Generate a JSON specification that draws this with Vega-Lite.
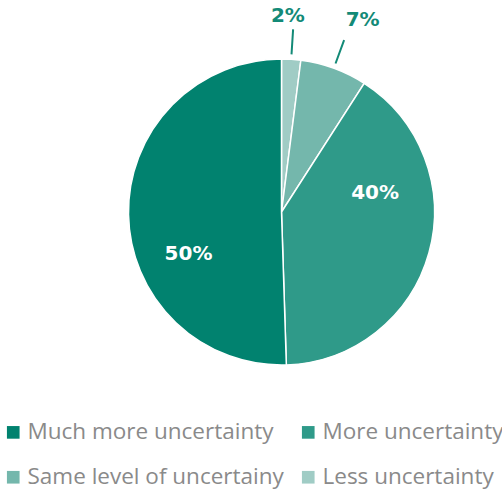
{
  "$schema": "https://vega.github.io/schema/vega-lite/v6.json",
  "autosize": "none",
  "width": 441,
  "height": 424,
  "padding": {"left": 61, "top": 0, "right": 0, "bottom": 67},
  "background": "white",
  "config": {"view": {"stroke": null}},
  "data": {
    "values": [
      {"category": "Less uncertainty", "value": 2, "label": "2%", "order": 1},
      {"category": "Same level of uncertainy", "value": 7, "label": "7%", "order": 2},
      {"category": "More uncertainty", "value": 40, "label": "40%", "order": 3},
      {"category": "Much more uncertainty", "value": 50, "label": "50%", "order": 4}
    ]
  },
  "transform": [
    {"stack": "value", "groupby": [], "sort": [{"field": "order"}], "as": ["t0", "t1"]},
    {"calculate": "(datum.t0 + datum.t1) / 2", "as": "tm"}
  ],
  "layer": [
    {
      "mark": {"type": "arc", "outerRadius": 153, "stroke": "white", "strokeWidth": 1.5},
      "encoding": {
        "theta": {"field": "t0", "type": "quantitative", "scale": {"domain": [0, 99], "range": [0, 6.283185307]}},
        "theta2": {"field": "t1"},
        "color": {
          "field": "category",
          "type": "nominal",
          "scale": {
            "domain": ["Much more uncertainty", "More uncertainty", "Same level of uncertainy", "Less uncertainty"],
            "range": ["#01826F", "#2F9A89", "#74B7AC", "#A0CCC5"]
          },
          "legend": {
            "title": null,
            "orient": "none",
            "legendX": -59,
            "legendY": 421,
            "columns": 2,
            "direction": "horizontal",
            "padding": 0,
            "symbolType": "square",
            "symbolSize": 160,
            "symbolStrokeWidth": 0,
            "symbolOpacity": 1,
            "labelFont": "Open Sans",
            "labelFontSize": 22.5,
            "labelColor": "#8A8A8A",
            "labelOffset": 3,
            "labelLimit": 400,
            "rowPadding": 22,
            "columnPadding": 13
          }
        }
      }
    },
    {
      "transform": [{"filter": "datum.order <= 2"}],
      "mark": {"type": "arc", "innerRadius": 158, "outerRadius": 183, "stroke": "#138A77", "strokeWidth": 2, "fill": null},
      "encoding": {
        "theta": {"field": "tm", "type": "quantitative", "scale": {"domain": [0, 99], "range": [0, 6.283185307]}},
        "theta2": {"field": "tm"}
      }
    },
    {
      "transform": [{"filter": "datum.order == 1"}],
      "mark": {"type": "text", "radius": 196, "dx": -6, "font": "DejaVu Sans", "fontWeight": "bold", "fontSize": 20, "fill": "#138A77"},
      "encoding": {
        "theta": {"field": "tm", "type": "quantitative", "scale": {"domain": [0, 99], "range": [0, 6.283185307]}},
        "text": {"field": "label"}
      }
    },
    {
      "transform": [{"filter": "datum.order == 2"}],
      "mark": {"type": "text", "radius": 208, "dx": 10, "dy": 3, "font": "DejaVu Sans", "fontWeight": "bold", "fontSize": 20, "fill": "#138A77"},
      "encoding": {
        "theta": {"field": "tm", "type": "quantitative", "scale": {"domain": [0, 99], "range": [0, 6.283185307]}},
        "text": {"field": "label"}
      }
    },
    {
      "transform": [{"filter": "datum.order == 3"}],
      "mark": {"type": "text", "radius": 95, "dx": 2, "dy": -44, "font": "DejaVu Sans", "fontWeight": "bold", "fontSize": 20, "fill": "white"},
      "encoding": {
        "theta": {"field": "tm", "type": "quantitative", "scale": {"domain": [0, 99], "range": [0, 6.283185307]}},
        "text": {"field": "label"}
      }
    },
    {
      "transform": [{"filter": "datum.order == 4"}],
      "mark": {"type": "text", "radius": 93, "dy": 41, "font": "DejaVu Sans", "fontWeight": "bold", "fontSize": 20, "fill": "white"},
      "encoding": {
        "theta": {"field": "tm", "type": "quantitative", "scale": {"domain": [0, 99], "range": [0, 6.283185307]}},
        "text": {"field": "label"}
      }
    }
  ]
}
